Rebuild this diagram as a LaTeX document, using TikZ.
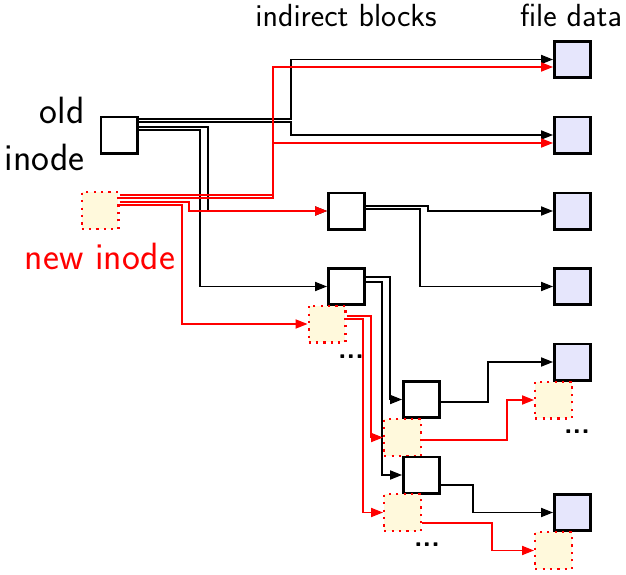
\documentclass[tikz,border=0pt]{standalone}
\usepackage{fontspec}
\usetikzlibrary{arrows.meta}
\definecolor{newyellow}{RGB}{255,249,220}
\definecolor{datablue}{RGB}{230,230,252}
\begin{document}
\begin{tikzpicture}[x=0.5pt,y=-0.5pt,
  box/.style={draw=black,line width=1.3pt,minimum size=18.2pt,inner sep=0pt,fill=white},
  newbox/.style={draw=red,line width=1.1pt,dash pattern=on 1.1pt off 2.6pt,fill=newyellow,minimum size=18.4pt,inner sep=0pt},
  databox/.style={box,fill=datablue},
  conn/.style={line width=0.6pt,-{Triangle[length=6pt,width=4.6pt]}},
  rconn/.style={conn,red},
  toplbl/.style={font=\sffamily\fontsize{16}{19}\selectfont,inner sep=0pt},
  sidelbl/.style={font=\sffamily\fontsize{19}{22}\selectfont,inner sep=0pt},
  dots/.style={font=\sffamily\bfseries\fontsize{14}{15}\selectfont,inner sep=0pt}]
\useasboundingbox (0,0) rectangle (626,574);

% labels
\node[toplbl,anchor=base] (lind) at (346,26) {indirect blocks};
\node[toplbl,anchor=base] (lfd) at (571,26) {file data};
\node[sidelbl,anchor=base east] (lold1) at (85,123) {old};
\node[sidelbl,anchor=base east] (lold2) at (85,170) {inode};
\node[sidelbl,anchor=base,text=red] (lnew) at (100,269) {new inode};

% inodes
\node[box] (old) at (119,135) {};
\node[newbox] (new) at (100,210.5) {};

% indirect blocks
\node[box] (ind1) at (346.5,211) {};
\node[box] (ind2) at (346.5,286.5) {};
\node[newbox] (nind2) at (327,324) {};
\node[dots] (d1) at (351,357) {...};

% double indirect level
\node[box] (dbl1) at (421.5,399.5) {};
\node[newbox] (ndbl1) at (402.5,437.5) {};
\node[box] (dbl2) at (421.5,475) {};
\node[newbox] (ndbl2) at (402.5,512.5) {};
\node[dots] (d3) at (427,545) {...};

% file data
\node[databox] (fd0) at (572.5,59.5) {};
\node[databox] (fd1) at (572.5,135) {};
\node[databox] (fd2) at (572.5,211) {};
\node[databox] (fd3) at (572.5,286.5) {};
\node[databox] (fd4) at (572.5,362) {};
\node[newbox] (nfd4) at (553.5,400) {};
\node[dots] (d2) at (577,432) {...};
\node[databox] (fd5) at (572.5,512.5) {};
\node[newbox] (nfd5) at (553.5,550.5) {};

% old inode pointers
\draw[conn] ([yshift=8pt]old.east) -- ++(152.5,0) |- (fd0.west);
\draw[conn] ([yshift=6.5pt]old.east) -- ++(152.5,0) |- (fd1.west);
\draw[conn] ([yshift=4pt]old.east) -- ++(69.5,0) |- (ind1.west);
\draw[conn] ([yshift=2.5pt]old.east) -- ++(61.5,0) |- (ind2.west);

% old indirect pointers
\draw[conn] ([yshift=2.5pt]ind1.east) -- ++(62,0) |- (fd2.west);
\draw[conn] ([yshift=1pt]ind1.east) -- ++(54,0) |- (fd3.west);
\draw[conn] ([yshift=4.75pt]ind2.east) -- ++(24,0) |- (dbl1.west);
\draw[conn] ([yshift=2.25pt]ind2.east) -- ++(16,0) |- (dbl2.west);
\draw[conn] ([yshift=-1.25pt]dbl1.east) -- ++(47,0) |- (fd4.west);
\draw[conn] ([yshift=-5pt]dbl2.east) -- ++(32,0) |- (fd5.west);

% new inode pointers
\draw[rconn] ([yshift=7.75pt]new.east) -- ++(153.5,0) |- ([yshift=-3.75pt]fd0.west);
\draw[rconn] ([yshift=6.25pt]new.east) -- ++(153.5,0) |- ([yshift=-4pt]fd1.west);
\draw[rconn] ([yshift=4.25pt]new.east) -- ++(69.5,0) |- (ind1.west);
\draw[rconn] ([yshift=2.75pt]new.east) -- ++(62.5,0) |- (nind2.west);

% new indirect pointers
\draw[rconn] ([yshift=4pt]nind2.east) -- ++(24.5,0) |- (ndbl1.west);
\draw[rconn] ([yshift=2.5pt]nind2.east) -- ++(16.5,0) |- (ndbl2.west);
\draw[rconn] ([yshift=-1.25pt]ndbl1.east) -- ++(85,0) |- (nfd4.west);
\draw[rconn] ([yshift=-5.25pt]ndbl2.east) -- ++(70,0) |- (nfd5.west);
\end{tikzpicture}
\end{document}
